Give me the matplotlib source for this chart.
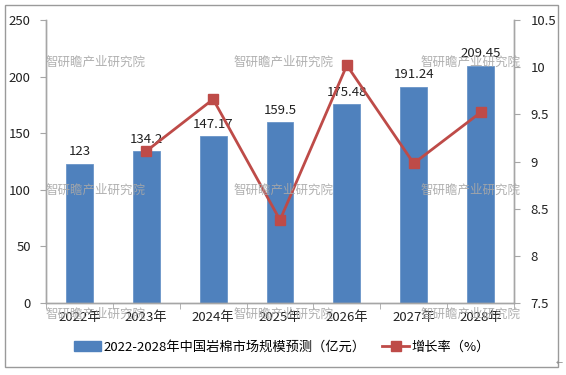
import matplotlib
matplotlib.use("Agg")
import matplotlib.pyplot as plt
from matplotlib.lines import Line2D
from matplotlib.patches import Patch, Rectangle
import numpy as np

plt.rcParams['font.family'] = ['Noto Sans CJK SC', 'DejaVu Sans']

years = ["2022年", "2023年", "2024年", "2025年", "2026年", "2027年", "2028年"]
market = [123, 134.2, 147.17, 159.5, 175.48, 191.24, 209.45]
market_labels = ["123", "134.2", "147.17", "159.5", "175.48", "191.24", "209.45"]
growth = [None, 9.11, 9.66, 8.38, 10.02, 8.98, 9.52]
bar_name = "2022-2028年中国岩棉市场规模预测（亿元）"
line_name = "增长率（%）"
watermark = "智研瞻产业研究院"

BAR = "#4F81BD"
RED = "#BE4B48"
AX = "#A6A6A6"

fig = plt.figure(figsize=(5.66, 3.75), dpi=100)
W, H = 566, 375
ax = fig.add_axes([46 / W, 1 - 303 / H, (514 - 46) / W, (303 - 20) / H])
ax2 = ax.twinx()

x = np.arange(len(years))
ax.bar(x, market, width=0.4, color=BAR, edgecolor="#6A95C8", linewidth=0.6, zorder=2)
for xi, v, lab in zip(x, market, market_labels):
    ax.annotate(lab, (xi, v), xytext=(0, 4), textcoords="offset points",
                ha="center", va="bottom", fontsize=9.5, color="#222222")

gx = [xi for xi, g in zip(x, growth) if g is not None]
gy = [g for g in growth if g is not None]
ax2.plot(gx, gy, color=RED, lw=2, marker="s", markersize=7, zorder=3)

ax.set_xlim(-0.5, len(years) - 0.5)
ax.set_ylim(0, 250)
ax.set_yticks([0, 50, 100, 150, 200, 250])
ax2.set_ylim(7.5, 10.5)
ax2.set_yticks([7.5, 8, 8.5, 9, 9.5, 10, 10.5])
ax2.set_yticklabels(["7.5", "8", "8.5", "9", "9.5", "10", "10.5"])

ax.set_xticks(x)
ax.set_xticklabels(years)
ax.set_xticks(np.arange(-0.5, len(years)), minor=True)
ax.tick_params(axis="x", which="major", length=0, pad=6, labelsize=9.5, labelcolor="#222222")
ax.tick_params(axis="x", which="minor", length=4, color=AX, direction="out")
ax.tick_params(axis="y", length=4, color=AX, labelsize=9.5, labelcolor="#222222", pad=7)
ax2.tick_params(axis="y", length=4, color=AX, labelsize=9.5, labelcolor="#222222", pad=8)

for a in (ax, ax2):
    a.spines["top"].set_visible(False)
    for s in ("left", "right", "bottom"):
        a.spines[s].set_color(AX)
        a.spines[s].set_linewidth(1)

# watermarks
for wy in (62, 190, 314):
    for wx in (45, 233, 420):
        fig.text(wx / W, 1 - wy / H, watermark, fontsize=9, color="#A8A8A8",
                 ha="left", va="center", alpha=0.9, zorder=10)

# legend
handles = [Patch(facecolor=BAR, edgecolor=BAR),
           Line2D([0], [0], color=RED, lw=2, marker="s", markersize=7)]
fig.legend(handles, [bar_name, line_name], loc="center", bbox_to_anchor=(282 / W, 1 - 347 / H),
           ncol=2, frameon=False, fontsize=9.5, handlelength=2.0, columnspacing=1.3,
           handletextpad=0.2)

# outer border
fig.patches.append(Rectangle((5 / W, 1 - 367 / H), (558 - 5) / W, (367 - 5) / H,
                             transform=fig.transFigure, fill=False, edgecolor="#9A9A9A",
                             linewidth=1))
fig.text(556 / W, 1 - 363 / H, "←", fontsize=5, color="#888888", ha="left", va="center")

fig.savefig("out.png", dpi=100)
